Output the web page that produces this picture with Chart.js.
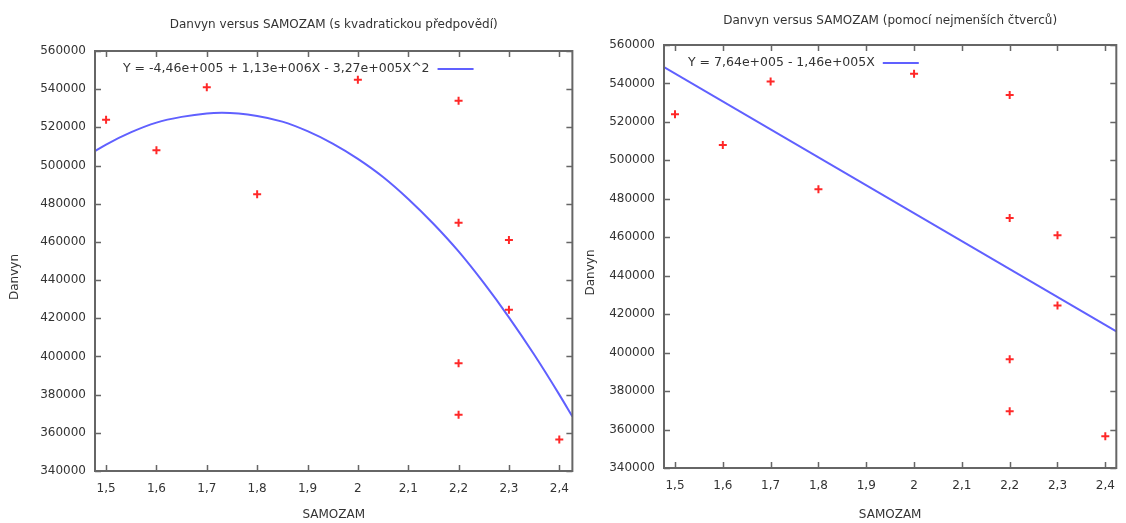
<html>
<head>
<script src="https://cdn.jsdelivr.net/npm/chart.js"></script>
<style>
  body { margin: 0; background: #fff; }
  .box { position: absolute; top: 0; height: 523px; }
</style>
</head>
<body>
<div class="box" style="left:0;width:580px"><canvas id="chartLeft"></canvas></div>
<div class="box" style="left:580px;width:546px"><canvas id="chartRight"></canvas></div>
<script>
// measured points (SAMOZAM, Danvyn)
const samozam = [1.5, 1.6, 1.7, 1.8, 2.0, 2.2, 2.2, 2.2, 2.2, 2.3, 2.3, 2.4];
const danvyn = [524000, 508000, 541000, 485000, 545000, 534000, 470000, 396500, 369500, 461000, 424500, 356500];

// quadratic prediction curve
const quadX = [1.478, 1.5, 1.55, 1.6, 1.65, 1.7, 1.73, 1.8, 1.85, 1.9, 1.95, 2.0, 2.05, 2.1, 2.15, 2.2, 2.25, 2.3, 2.35, 2.4, 2.426];
const quadY = [507500, 511000, 517500, 522500, 525500, 527300, 527600, 526000, 523000, 518000, 511500, 503500, 494000, 482500, 469500, 455000, 438500, 420500, 401000, 380000, 368500];

// least squares line
const linX = [1.477, 2.423];
const linY = [548500, 411000];

const xTicks = [1.5, 1.6, 1.7, 1.8, 1.9, 2.0, 2.1, 2.2, 2.3, 2.4];
const xTickLabels = ['1,5', '1,6', '1,7', '1,8', '1,9', '2', '2,1', '2,2', '2,3', '2,4'];
const yTicks = [340000, 360000, 380000, 400000, 420000, 440000, 460000, 480000, 500000, 520000, 540000, 560000];

const quadLabel = 'Y = -4,46e+005 + 1,13e+006X - 3,27e+005X^2';
const linLabel = 'Y = 7,64e+005 - 1,46e+005X';

const textColor = '#333';
const axisColor = '#666';
const font = { family: 'DejaVu Sans', size: 12 };

function pts(xs, ys) {
  return xs.map((x, i) => ({ x: x, y: ys[i] }));
}

// gnuplot style frame with inward ticks on all four sides, title, ylabel and key
const framePlugin = {
  id: 'frame',
  afterDraw(chart, args, opts) {
    const ctx = chart.ctx;
    const a = chart.chartArea;
    const xs = chart.scales.x, ys = chart.scales.y;
    ctx.save();
    ctx.strokeStyle = axisColor;
    ctx.lineWidth = 1.5;
    ctx.beginPath();
    xs.ticks.forEach(t => {
      const px = Math.round(xs.getPixelForValue(t.value)) + 0.5;
      ctx.moveTo(px, a.bottom); ctx.lineTo(px, a.bottom - 6);
      ctx.moveTo(px, a.top); ctx.lineTo(px, a.top + 6);
    });
    ys.ticks.forEach(t => {
      const py = Math.round(ys.getPixelForValue(t.value)) + 0.5;
      ctx.moveTo(a.left, py); ctx.lineTo(a.left + 6, py);
      ctx.moveTo(a.right, py); ctx.lineTo(a.right - 6, py);
    });
    ctx.stroke();
    ctx.lineWidth = 2;
    ctx.strokeRect(a.left, a.top, a.right - a.left, a.bottom - a.top);

    ctx.fillStyle = textColor;
    ctx.textBaseline = 'middle';

    // title centred over the plot
    ctx.font = '12px "DejaVu Sans"';
    ctx.textAlign = 'center';
    ctx.fillText(opts.title, (a.left + a.right) / 2, opts.titleY);

    // y label
    ctx.save();
    ctx.translate(opts.yLabelX, (a.top + a.bottom) / 2 + 16);
    ctx.rotate(-Math.PI / 2);
    ctx.fillText('Danvyn', 0, 0);
    ctx.restore();

    // key: text then line sample
    const ds = chart.data.datasets[1];
    ctx.font = '12.5px "DejaVu Sans"';
    ctx.textAlign = 'left';
    const tx = a.left + opts.dx, ty = a.top + opts.dy;
    ctx.fillText(ds.label, tx, ty);
    const w = ctx.measureText(ds.label).width;
    ctx.strokeStyle = ds.borderColor;
    ctx.lineWidth = ds.borderWidth;
    ctx.beginPath();
    ctx.moveTo(tx + w + 8, ty);
    ctx.lineTo(tx + w + 44, ty);
    ctx.stroke();
    ctx.restore();
  }
};

function makeChart(id, cfg) {
  return new Chart(document.getElementById(id), {
    type: 'scatter',
    data: {
      datasets: [{
        label: 'Danvyn',
        data: pts(samozam, danvyn),
        pointStyle: 'cross',
        radius: 4,
        borderWidth: 2,
        borderColor: 'rgb(255,40,40)',
        backgroundColor: 'rgb(255,40,40)'
      }, {
        label: cfg.label,
        data: pts(cfg.lx, cfg.ly),
        showLine: true,
        pointRadius: 0,
        borderWidth: 2,
        borderColor: 'rgb(96,96,255)',
        cubicInterpolationMode: 'monotone'
      }]
    },
    options: {
      responsive: true,
      maintainAspectRatio: false,
      animation: false,
      events: [],
      layout: { padding: { left: 0, right: 5, top: cfg.top, bottom: 0 } },
      plugins: {
        legend: { display: false },
        tooltip: { enabled: false },
        title: { display: false },
        frame: { dx: cfg.keyDx, dy: cfg.keyDy, title: cfg.title, titleY: cfg.titleY, yLabelX: cfg.yLabelX }
      },
      scales: {
        x: {
          type: 'linear',
          min: cfg.xmin,
          max: cfg.xmax,
          grid: { display: false, drawTicks: false },
          border: { display: false },
          afterBuildTicks: s => { s.ticks = xTicks.map(v => ({ value: v })); },
          afterFit: s => { s.height = cfg.xAxisH; },
          ticks: {
            color: textColor,
            font: font,
            padding: 11,
            maxRotation: 0,
            callback: (v, i) => xTickLabels[i]
          },
          title: {
            display: true,
            text: 'SAMOZAM',
            color: textColor,
            font: font,
            padding: { top: 0, bottom: 1 }
          }
        },
        y: {
          min: 340000,
          max: 560000,
          grid: { display: false, drawTicks: false },
          border: { display: false },
          afterBuildTicks: s => { s.ticks = yTicks.map(v => ({ value: v })); },
          afterFit: s => { s.width = cfg.yAxisW; },
          ticks: {
            color: textColor,
            font: font,
            padding: 9,
            callback: v => String(v)
          }
        }
      }
    },
    plugins: [framePlugin]
  });
}

makeChart('chartLeft', {
  title: 'Danvyn versus SAMOZAM (s kvadratickou předpovědí)',
  label: quadLabel, lx: quadX, ly: quadY,
  xmin: 1.478, xmax: 2.426,
  top: 51, titleY: 25,
  xAxisH: 52, yAxisW: 95, yLabelX: 15,
  keyDx: 28, keyDy: 18
});

makeChart('chartRight', {
  title: 'Danvyn versus SAMOZAM (pomocí nejmenších čtverců)',
  label: linLabel, lx: linX, ly: linY,
  xmin: 1.477, xmax: 2.423,
  top: 45, titleY: 21,
  xAxisH: 55, yAxisW: 84, yLabelX: 11,
  keyDx: 24, keyDy: 18
});
</script>
</body>
</html>
